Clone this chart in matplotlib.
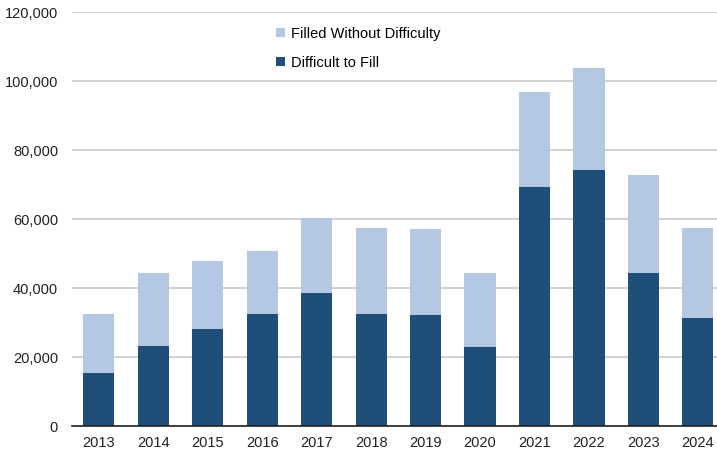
import matplotlib
matplotlib.use("Agg")
import matplotlib.pyplot as plt
from matplotlib.ticker import FuncFormatter

# data
years = ["2013", "2014", "2015", "2016", "2017", "2018",
         "2019", "2020", "2021", "2022", "2023", "2024"]
difficult = [15500, 23200, 28300, 32600, 38700, 32700,
             32400, 22900, 69300, 74400, 44300, 31400]
total = [32500, 44300, 48000, 50700, 60500, 57600,
         57100, 44300, 96800, 103800, 72700, 57600]
filled = [t - d for t, d in zip(total, difficult)]

DARK = "#1F4E79"
LIGHT = "#B4C7E3"

plt.rcParams['font.family'] = ['Liberation Sans', 'DejaVu Sans']

fig = plt.figure(figsize=(7.17, 4.55), dpi=100)
ax = fig.add_axes([0.1004, 0.063, 0.8996, 0.910])

x = range(len(years))
ax.bar(x, difficult, width=0.57, color=DARK, label="Difficult to Fill", zorder=3)
ax.bar(x, filled, width=0.57, bottom=difficult, color=LIGHT,
       label="Filled Without Difficulty", zorder=3)

ax.set_xlim(-0.49, 11.35)
ax.set_ylim(0, 120000)
ax.set_yticks(range(0, 120001, 20000))
ax.yaxis.set_major_formatter(FuncFormatter(lambda v, p: f"{int(v):,}"))
ax.set_xticks(list(x))
ax.set_xticklabels(years)

ax.grid(axis='y', color='#C8C8C8', linewidth=1.2, zorder=0)
for side in ['top', 'right', 'left']:
    ax.spines[side].set_visible(False)
ax.spines['bottom'].set_color('#222222')
ax.spines['bottom'].set_linewidth(1.2)
ax.spines['bottom'].set_zorder(4)
ax.tick_params(axis='both', length=0, labelsize=10.5, colors='#222222')
ax.tick_params(axis='x', pad=7)
ax.tick_params(axis='y', pad=10)

handles, labels = ax.get_legend_handles_labels()
ax.legend(handles[::-1], labels[::-1], loc='upper left',
          bbox_to_anchor=(0.371, 0.964), bbox_transform=fig.transFigure,
          frameon=False, fontsize=10.5, handlelength=0.6, handleheight=0.6,
          handletextpad=0.4, labelspacing=1.05, borderpad=0.2)

fig.savefig("out.png", dpi=100)
